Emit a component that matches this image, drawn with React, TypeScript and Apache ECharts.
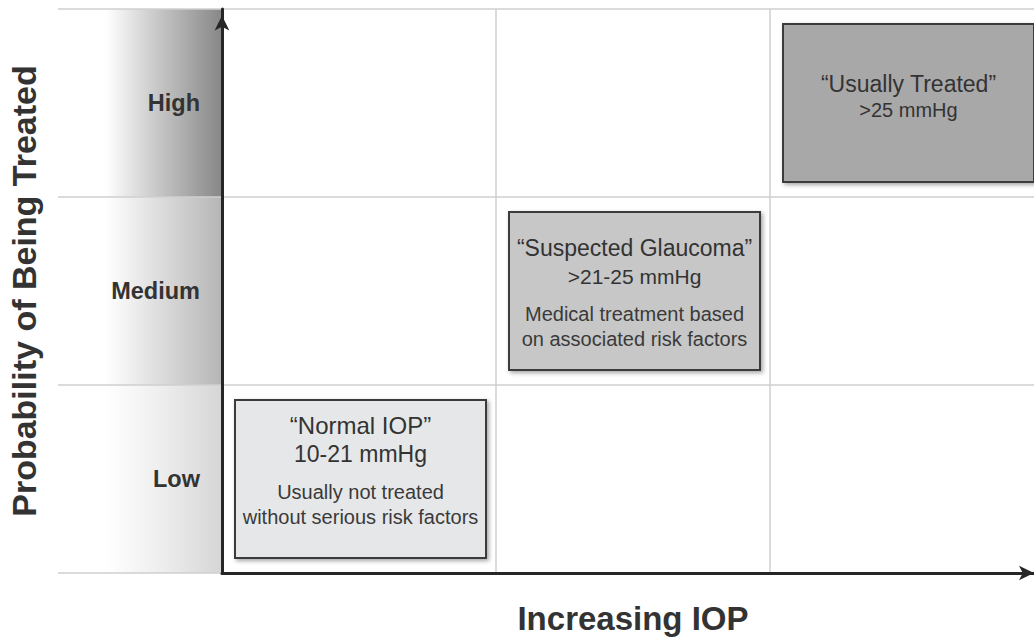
import React, { useEffect, useRef } from "react";
import * as echarts from "echarts";

// ---------- data ----------
const probabilityLevels = ["Low", "Medium", "High"];
const iopColumns = ["Normal IOP", "Suspected Glaucoma", "Usually Treated"];
const bandValues = [1, 1, 1];
const boxColumn = [0, 1, 2];
const boxRow = [0, 1, 2];
const boxTitles = ["\u201CNormal IOP\u201D", "\u201CSuspected Glaucoma\u201D", "\u201CUsually Treated\u201D"];
const boxRanges = ["10-21 mmHg", ">21-25 mmHg", ">25 mmHg"];
const boxNotes: string[][] = [
  ["Usually not treated", "without serious risk factors"],
  ["Medical treatment based", "on associated risk factors"],
  [],
];
const yAxisTitle = "Probability of Being Treated";
const xAxisTitle = "Increasing IOP";

// ---------- styles ----------
const FONT = "'Liberation Sans', Arial, Helvetica, sans-serif";
const TEXT = "#333333";
const GRID_LINE = "#cfcfcf";
const AXIS = "#262626";
const BAND_SHADES = ["#d6d6d6", "#b6b6b6", "#888888"];
const BAND_MID = ["#eeeeee", "#dcdcdc", "#c4c4c4"];
const BOX_FILLS = ["#e6e7e8", "#c7c7c7", "#a8a8a9"];
const TITLE_DY = [25, 36, 60];
const RANGE_GAP = [29, 28, 26];
const NOTE_GAP = 38;
const NOTE_LINE = 25;
const TITLE_SIZE = [24, 23, 23];
const RANGE_SIZE = [23, 21, 20];
const NOTE_SIZE = 20;

export default function App() {
  const ref = useRef<HTMLDivElement>(null);

  useEffect(() => {
    document.body.style.margin = "0";
    const chart = echarts.init(ref.current!, null, { renderer: "svg" });

    const option: any = {
      animation: false,
      backgroundColor: "#ffffff",
      grid: [
        { left: 222, top: 9, width: 822, height: 564, outerBoundsMode: "none", containLabel: false },
        { left: 58, top: 9, width: 976, height: 564, outerBoundsMode: "none", containLabel: false },
        { left: 100, top: 9, width: 121, height: 564, outerBoundsMode: "none", containLabel: false },
      ],
      xAxis: [
        {
          gridIndex: 0,
          type: "category",
          data: iopColumns,
          z: 6,
          axisLine: {
            show: true,
            lineStyle: { color: AXIS, width: 3 },
            symbol: ["none", "arrow"],
            symbolSize: [11, 15],
            symbolOffset: [0, -10],
          },
          axisTick: { show: false },
          axisLabel: { show: false },
          splitLine: { show: true, lineStyle: { color: GRID_LINE, width: 1.5 } },
          name: xAxisTitle,
          nameLocation: "middle",
          nameGap: 29,
          nameTextStyle: { fontFamily: FONT, fontWeight: "bold", fontSize: 33, color: TEXT },
        },
        { gridIndex: 1, type: "value", min: 0, max: 1, show: false },
        { gridIndex: 2, type: "value", min: 0, max: 1, show: false },
      ],
      yAxis: [
        {
          gridIndex: 0,
          type: "category",
          data: probabilityLevels,
          z: 6,
          axisLine: {
            show: true,
            lineStyle: { color: AXIS, width: 3 },
            symbol: ["none", "arrow"],
            symbolSize: [11, 15],
            symbolOffset: [0, -6.5],
          },
          axisTick: { show: false },
          axisLabel: {
            margin: 22,
            fontFamily: FONT,
            fontWeight: "bold",
            fontSize: 23.5,
            color: TEXT,
          },
          splitLine: { show: false },
          name: yAxisTitle,
          nameLocation: "middle",
          nameGap: 181,
          nameRotate: 90,
          nameTextStyle: { fontFamily: FONT, fontWeight: "bold", fontSize: 34, color: TEXT },
        },
        {
          gridIndex: 1,
          type: "category",
          data: probabilityLevels,
          z: 3,
          axisLine: { show: false },
          axisTick: { show: false },
          axisLabel: { show: false },
          splitLine: { show: true, lineStyle: { color: GRID_LINE, width: 1.5 } },
        },
        {
          gridIndex: 2,
          type: "category",
          data: probabilityLevels,
          show: false,
        },
      ],
      series: [
        {
          type: "bar",
          xAxisIndex: 2,
          yAxisIndex: 2,
          silent: true,
          z: 1,
          barWidth: "100%",
          barCategoryGap: 0,
          data: bandValues.map((v, i) => ({
            value: v,
            itemStyle: {
              color: new echarts.graphic.LinearGradient(0, 0, 1, 0, [
                { offset: 0, color: "#ffffff" },
                { offset: 0.05, color: "#ffffff" },
                { offset: 0.5, color: BAND_MID[i] },
                { offset: 1, color: BAND_SHADES[i] },
              ]),
            },
          })),
        },
        {
          type: "custom",
          xAxisIndex: 0,
          yAxisIndex: 0,
          silent: true,
          z: 5,
          data: boxColumn.map((c, i) => [c, boxRow[i], i]),
          renderItem: (_params: any, api: any) => {
            const i = api.value(2);
            const center = api.coord([api.value(0), api.value(1)]);
            const size = api.size([1, 1]);
            const x = center[0] - size[0] / 2 + 13;
            const y = center[1] - size[1] / 2 + 15;
            const w = 251;
            const h = 158;
            const cx = x + w / 2;
            const children: any[] = [
              {
                type: "rect",
                shape: { x, y, width: w, height: h },
                style: {
                  fill: BOX_FILLS[i],
                  stroke: "#3a3a3a",
                  lineWidth: 2,
                  shadowBlur: 4,
                  shadowOffsetX: 2,
                  shadowOffsetY: 2,
                  shadowColor: "rgba(0,0,0,0.35)",
                },
              },
            ];
            const titleY = y + TITLE_DY[i];
            const rangeY = titleY + RANGE_GAP[i];
            children.push({
              type: "text",
              x: cx,
              y: titleY,
              style: {
                text: boxTitles[i],
                fill: TEXT,
                fontFamily: FONT,
                fontSize: TITLE_SIZE[i],
                align: "center",
                verticalAlign: "middle",
              },
            });
            children.push({
              type: "text",
              x: cx,
              y: rangeY,
              style: {
                text: boxRanges[i],
                fill: TEXT,
                fontFamily: FONT,
                fontSize: RANGE_SIZE[i],
                align: "center",
                verticalAlign: "middle",
              },
            });
            boxNotes[i].forEach((line, k) => {
              children.push({
                type: "text",
                x: cx,
                y: rangeY + NOTE_GAP + k * NOTE_LINE,
                style: {
                  text: line,
                  fill: "#3a3a3a",
                  fontFamily: FONT,
                  fontSize: NOTE_SIZE,
                  align: "center",
                  verticalAlign: "middle",
                },
              });
            });
            return { type: "group", children };
          },
        },
      ],
    };

    chart.setOption(option);
    return () => chart.dispose();
  }, []);

  return <div ref={ref} style={{ width: 1034, height: 637 }} />;
}
